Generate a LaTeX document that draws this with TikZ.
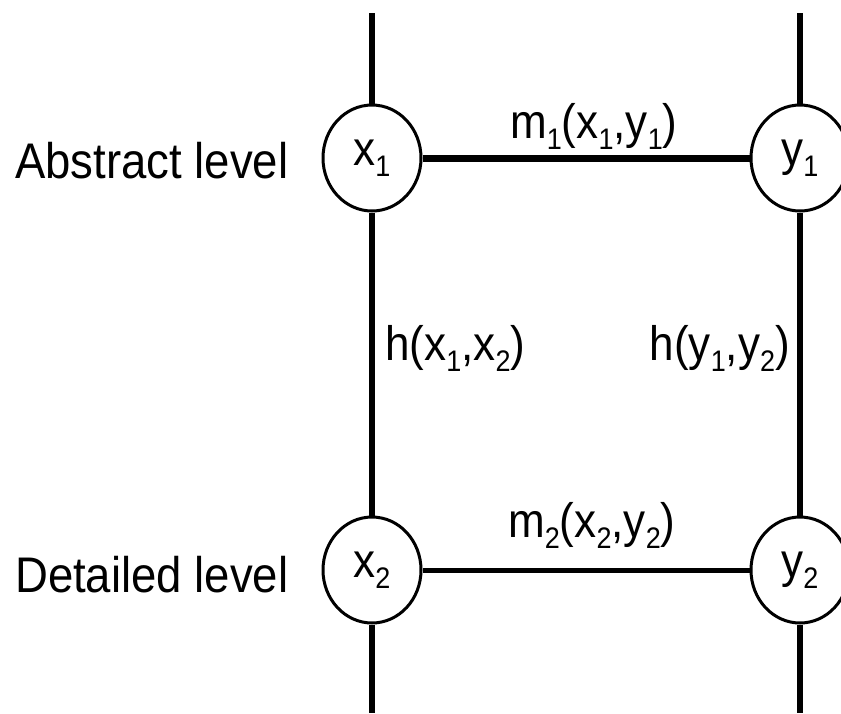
\documentclass[tikz,border=0pt]{standalone}
\usepackage{fontspec}
\setmainfont{Liberation Sans}
\usetikzlibrary{shapes.geometric}
\newcommand\sbs[1]{\raisebox{-10pt}{\fontsize{27}{30}\selectfont #1}}
\newcommand\tx[1]{\scalebox{1}[1.1]{\fontsize{44}{50}\selectfont #1}}
\newcommand\txl[1]{\scalebox{1}[1.1]{\fontsize{45.5}{50}\selectfont #1}}
\begin{document}
\begin{tikzpicture}[x=1pt,y=-1pt,
  state/.style={draw,ellipse,line width=3pt,inner sep=0pt,minimum width=98pt,minimum height=106pt},
  vline/.style={line width=6.5pt},
  topline/.style={line width=7pt},
  botline/.style={line width=5pt},
  lbl/.style={inner sep=0pt,anchor=base west},
  lble/.style={inner sep=0pt,anchor=base east}]
\useasboundingbox (0,0) rectangle (841,713);
\node[state] (x1) at (372,158) {\tx{x\sbs{1}}};
\node[state] (y1) at (800,158) {\tx{y\sbs{1}}};
\node[state] (x2) at (372,570) {\tx{x\sbs{2}}};
\node[state] (y2) at (800,570) {\tx{y\sbs{2}}};
\coordinate (tx) at (372,13);
\coordinate (ty) at (800,13);
\coordinate (bx) at (372,713);
\coordinate (by) at (800,713);
\draw[vline] (tx) -- (x1);
\draw[vline] (ty) -- (y1);
\draw[vline] (x1) -- (x2);
\draw[vline] (y1) -- (y2);
\draw[vline] (x2) -- (bx);
\draw[vline] (y2) -- (by);
\draw[topline] (x1) -- (y1);
\draw[botline] (x2) -- (y2);
\node[lbl] (al) at (15,178) {\txl{Abstract level}};
\node[lbl] (dl) at (15,592) {\txl{Detailed level}};
\node[lbl] (m1) at (510,138) {\tx{m\sbs{1}(x\sbs{1},y\sbs{1})}};
\node[lbl] (m2) at (508,537) {\tx{m\sbs{2}(x\sbs{2},y\sbs{2})}};
\node[lbl] (h1) at (385,360) {\tx{h(x\sbs{1},x\sbs{2})}};
\node[lble] (h2) at (790,360) {\tx{h(y\sbs{1},y\sbs{2})}};
\end{tikzpicture}
\end{document}
